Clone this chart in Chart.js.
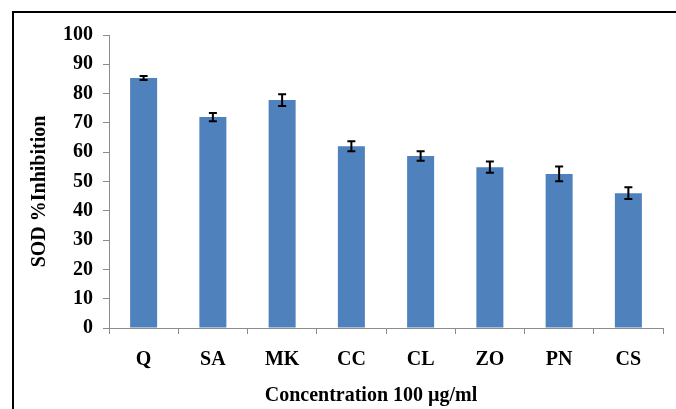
<!DOCTYPE html>
<html>
<head>
<meta charset="utf-8">
<script src="https://cdn.jsdelivr.net/npm/chart.js@4"></script>
<style>
html,body{margin:0;padding:0;background:#fff;}
canvas{display:block;}
</style>
</head>
<body>
<canvas id="c" width="676" height="409"></canvas>
<script>
const categories = ["Q", "SA", "MK", "CC", "CL", "ZO", "PN", "CS"];
const sodInhibition = [85.3, 72.0, 77.8, 62.0, 58.7, 54.9, 52.6, 46.0];
const sodError = [0.7, 1.4, 2.0, 1.7, 1.6, 1.9, 2.5, 2.0];
const yTicks = [0, 10, 20, 30, 40, 50, 60, 70, 80, 90, 100];
const xTitle = 'Concentration 100 µg/ml';
const yTitle = 'SOD %Inhibition';

const frame = {
  id: 'frame',
  beforeDraw(chart) {
    const ctx = chart.ctx;
    ctx.save();
    ctx.fillStyle = '#fff';
    ctx.fillRect(0, 0, chart.width, chart.height);
    ctx.strokeStyle = '#000';
    ctx.lineWidth = 2;
    ctx.beginPath();
    ctx.moveTo(13, chart.height + 5);
    ctx.lineTo(13, 12);
    ctx.lineTo(chart.width + 5, 12);
    ctx.stroke();
    ctx.restore();
  }
};

const errorBars = {
  id: 'errorBars',
  afterDatasetsDraw(chart) {
    const ctx = chart.ctx;
    const meta = chart.getDatasetMeta(0);
    const ys = chart.scales.y;
    ctx.save();
    ctx.strokeStyle = '#000';
    ctx.lineWidth = 2;
    meta.data.forEach((bar, i) => {
      const v = sodInhibition[i], e = sodError[i];
      const x = bar.x;
      const y1 = ys.getPixelForValue(v + e);
      const y2 = ys.getPixelForValue(v - e);
      ctx.beginPath();
      ctx.moveTo(x, y1); ctx.lineTo(x, y2);
      ctx.moveTo(x - 4, y1); ctx.lineTo(x + 4, y1);
      ctx.moveTo(x - 4, y2); ctx.lineTo(x + 4, y2);
      ctx.stroke();
    });
    ctx.restore();
  }
};

const serifBold = (size) => ({ family: 'Liberation Serif', size: size, weight: 'bold' });

new Chart(document.getElementById('c'), {
  type: 'bar',
  data: {
    labels: categories,
    datasets: [{
      data: sodInhibition,
      backgroundColor: '#4F81BD',
      borderWidth: 0,
      categoryPercentage: 0.78,
      barPercentage: 0.5
    }]
  },
  options: {
    responsive: false,
    animation: false,
    devicePixelRatio: 1,
    layout: { padding: { left: 0, right: 13, top: 35, bottom: 0 } },
    plugins: { legend: { display: false }, tooltip: { enabled: false } },
    scales: {
      x: {
        afterFit(s) { s.height = 81; },
        grid: { display: true, drawOnChartArea: false, offset: true, tickLength: 6, color: '#8c8c8c' },
        border: { display: true, color: '#8c8c8c', width: 1 },
        ticks: { padding: 14, color: '#000', font: serifBold(20) },
        title: {
          display: true,
          text: xTitle + '      ',
          color: '#000',
          font: serifBold(20),
          padding: { top: 0, bottom: 1 }
        }
      },
      y: {
        min: 0,
        max: 100,
        afterFit(s) { s.width = 109; },
        afterBuildTicks(s) { s.ticks = yTicks.map(v => ({ value: v })); },
        grid: { display: true, drawOnChartArea: false, tickLength: 6, color: '#8c8c8c' },
        border: { display: true, color: '#8c8c8c', width: 1 },
        ticks: { padding: 10, color: '#000', font: serifBold(20) },
        title: {
          display: true,
          text: yTitle + '    ',
          color: '#000',
          font: serifBold(20),
          padding: { top: 28, bottom: 0 }
        }
      }
    }
  },
  plugins: [frame, errorBars]
});
</script>
</body>
</html>
